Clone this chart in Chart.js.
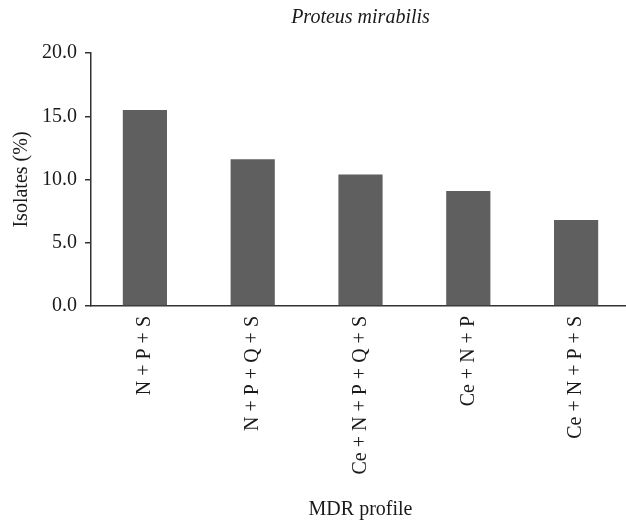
<!DOCTYPE html>
<html>
<head>
<meta charset="utf-8">
<script src="https://cdn.jsdelivr.net/npm/chart.js@4/dist/chart.umd.min.js"></script>
<style>
  html, body { margin: 0; padding: 0; background: #fff; overflow: hidden; }
  /* the x axis runs a little past the right edge in the original, so the canvas is cropped */
  #wrap { width: 626px; height: 529px; overflow: hidden; }
</style>
</head>
<body>
<div id="wrap"><canvas id="chart" width="630" height="529"></canvas></div>
<script>
const categories = ["N + P + S", "N + P + Q + S", "Ce + N + P + Q + S", "Ce + N + P", "Ce + N + P + S"];
const isolates = [15.5, 11.6, 10.4, 9.1, 6.8];
const yTicks = [0, 5, 10, 15, 20];

const serif = "'Liberation Serif', 'DejaVu Serif', serif";
const ink = "#1a1a1a";

new Chart(document.getElementById("chart"), {
  type: "bar",
  data: {
    labels: categories,
    datasets: [{
      label: "Isolates (%)",
      data: isolates,
      backgroundColor: "#5f5f5f",
      barPercentage: 0.41,
      categoryPercentage: 1,
    }],
  },
  options: {
    responsive: false,
    animation: false,
    plugins: {
      legend: { display: false },
      tooltip: { enabled: false },
      title: {
        display: true,
        fullSize: false, // centre over the plot area, not the canvas
        text: "Proteus mirabilis",
        color: ink,
        font: { family: serif, size: 20, style: "italic", weight: "normal" },
        padding: { top: 6, bottom: 23 },
      },
    },
    scales: {
      x: {
        grid: { display: true, drawOnChartArea: false, drawTicks: false },
        border: { display: true, color: "#333", width: 1.5 },
        ticks: {
          color: ink,
          font: { family: serif, size: 20 },
          maxRotation: 90,
          minRotation: 90,
          padding: 10,
          autoSkip: false,
        },
        title: {
          display: true,
          text: "MDR profile",
          color: ink,
          font: { family: serif, size: 20 },
          padding: { top: 0, bottom: 7 },
        },
        afterFit: (s) => { s.height = 223; },
      },
      y: {
        min: 0,
        max: 20,
        afterBuildTicks: (s) => { s.ticks = yTicks.map((v) => ({ value: v })); },
        grid: { display: true, drawOnChartArea: false, drawTicks: true, tickLength: 6, color: "#333", lineWidth: 1.5 },
        border: { display: true, color: "#333", width: 1.5 },
        ticks: {
          color: ink,
          font: { family: serif, size: 20 },
          padding: 8,
          callback: (v) => Number(v).toFixed(1),
        },
        title: {
          display: true,
          text: "Isolates (%)",
          color: ink,
          font: { family: serif, size: 20 },
          padding: { top: 10, bottom: 0 },
        },
        afterFit: (s) => { s.width = 91; },
      },
    },
  },
});
</script>
</body>
</html>
